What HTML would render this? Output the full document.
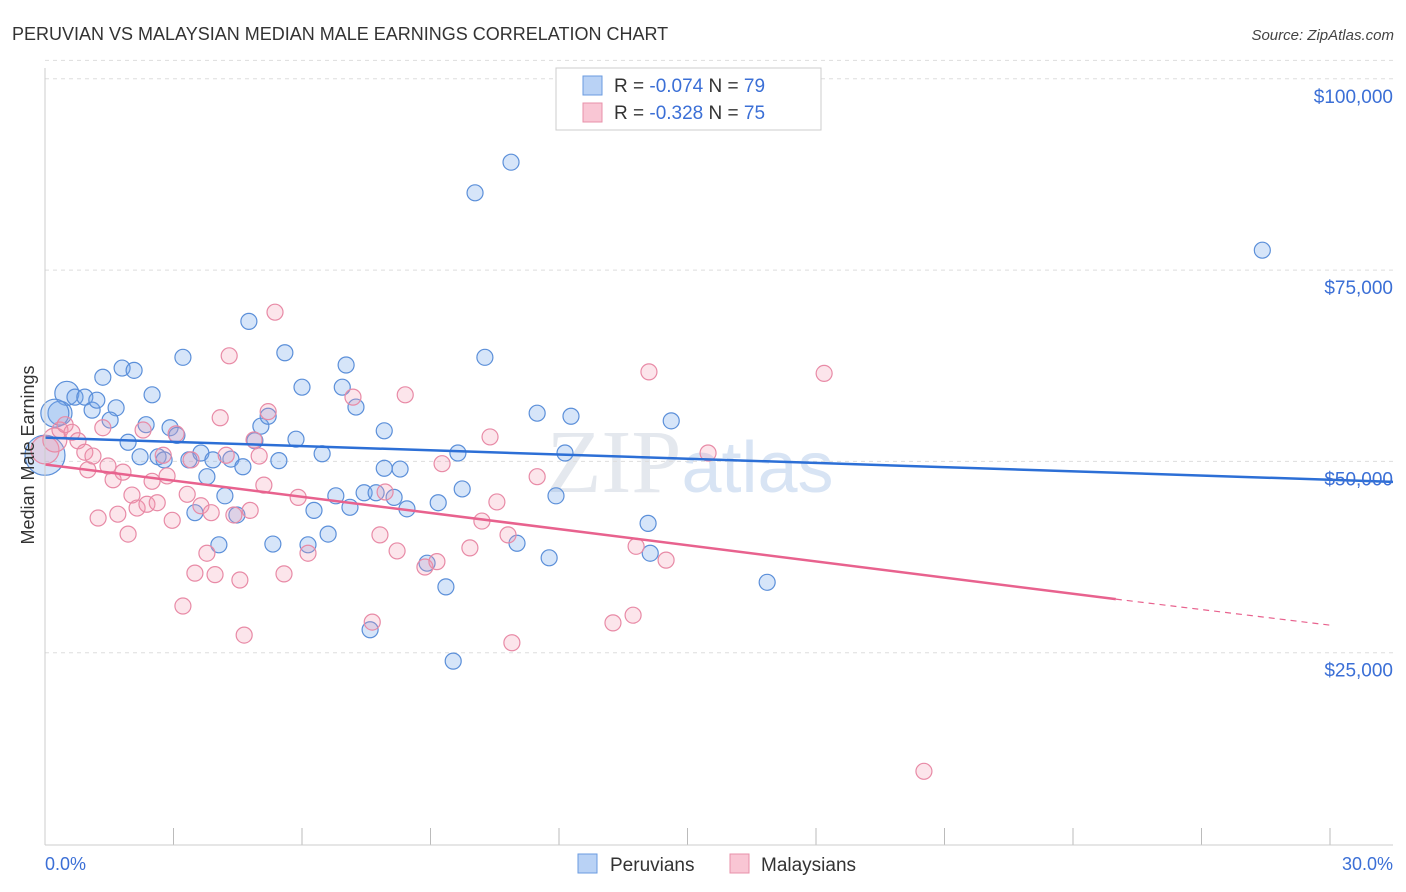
<!DOCTYPE html>
<html><head><meta charset="utf-8"><style>
body{margin:0;background:#fff;font-family:"Liberation Sans",sans-serif;}
svg{display:block}
</style></head><body>
<svg id="chart" width="1406" height="892" viewBox="0 0 1406 892">
<text x="12" y="40" font-size="18" fill="#333">PERUVIAN VS MALAYSIAN MEDIAN MALE EARNINGS CORRELATION CHART</text>
<text x="1394" y="40" font-size="15" fill="#444" text-anchor="end" font-style="italic">Source: ZipAtlas.com</text>
<text x="690" y="492" font-size="90" fill="#e4e8ee" text-anchor="middle" font-family="Liberation Serif">ZIP<tspan fill="#d8e4f4" font-family="Liberation Sans" font-size="72">atlas</tspan></text>
<g id="grid"></g><g id="marks"></g>
<line x1="45" y1="845" x2="1393" y2="845" stroke="#ccc"/>
<line x1="45" y1="68" x2="45" y2="845" stroke="#ccc"/>
<text transform="translate(34,455) rotate(-90)" font-size="18" fill="#333" text-anchor="middle">Median Male Earnings</text>
<text x="45" y="870" font-size="18" fill="#3b6fd6">0.0%</text>
<text x="1393" y="870" font-size="18" fill="#3b6fd6" text-anchor="end">30.0%</text>
<g>
<rect x="556" y="68" width="265" height="62" fill="#fff" stroke="#ccc"/>
<rect x="583" y="76" width="19" height="19" fill="#b9d2f5" stroke="#6a9be0"/>
<text x="614" y="92" font-size="19" fill="#333">R = <tspan fill="#3b6fd6">-0.074</tspan>   N = <tspan fill="#3b6fd6">79</tspan></text>
<rect x="583" y="103" width="19" height="19" fill="#f9c6d4" stroke="#e890aa"/>
<text x="614" y="119" font-size="19" fill="#333">R = <tspan fill="#3b6fd6">-0.328</tspan>   N = <tspan fill="#3b6fd6">75</tspan></text>
</g>
<g>
<rect x="578" y="854" width="19" height="19" fill="#b9d2f5" stroke="#6a9be0"/>
<text x="610" y="871" font-size="19" fill="#333">Peruvians</text>
<rect x="730" y="854" width="19" height="19" fill="#f9c6d4" stroke="#e890aa"/>
<text x="761" y="871" font-size="19" fill="#333">Malaysians</text>
</g>
</svg>
<script>
const yTicks=[25000,50000,75000,100000];
const yTickLabels=["$25,000","$50,000","$75,000","$100,000"];
const xTicks=[0,3,6,9,12,15,18,21,24,27,30];
const peruX=[0,0.51,0.35,0.23,0.70,0.93,1.10,1.21,1.35,1.66,1.52,1.80,2.08,1.94,2.22,2.36,2.50,2.64,2.78,2.92,3.08,3.22,3.36,3.50,3.64,3.78,3.92,4.06,4.20,4.34,4.48,4.62,4.76,4.90,5.04,5.21,5.32,5.46,5.60,5.86,6.00,6.14,6.28,6.47,6.61,6.79,6.94,7.03,7.12,7.26,7.45,7.59,7.73,7.92,7.92,8.15,8.29,8.45,8.92,9.18,9.36,9.53,9.64,9.74,10.04,10.27,10.88,11.02,11.49,11.77,11.93,12.14,12.28,14.08,14.13,14.62,16.86,28.42];
const peruY=[50.8,58.9,56.3,56.3,58.4,58.4,56.7,58.0,61.0,57.0,55.4,62.2,61.9,52.5,50.6,54.8,58.7,50.6,50.2,54.4,53.4,63.6,50.2,43.3,51.1,48.0,50.2,39.1,45.5,50.3,43.0,49.3,68.3,52.7,54.6,55.9,39.2,50.1,64.2,52.9,59.7,39.1,43.6,51.0,40.5,45.5,59.7,62.6,44.0,57.1,45.9,28.0,45.9,54.0,49.1,45.3,49.0,43.8,36.7,44.6,33.6,23.9,51.1,46.4,85.1,63.6,89.1,39.3,56.3,37.4,45.5,51.1,55.9,41.9,38.0,55.3,34.2,77.6];
const peruR=[20,12,12,14];
const malX=[0,0.23,0.35,0.47,0.63,0.77,0.93,1.00,1.12,1.24,1.35,1.47,1.59,1.70,1.82,1.94,2.03,2.15,2.29,2.38,2.50,2.62,2.76,2.85,2.97,3.06,3.22,3.32,3.41,3.50,3.64,3.78,3.88,3.97,4.09,4.23,4.30,4.41,4.55,4.65,4.79,4.88,5.00,5.11,5.21,5.37,5.58,5.91,6.14,7.19,7.64,7.82,7.94,8.22,8.41,8.87,9.15,9.27,9.92,10.20,10.39,10.55,10.81,10.90,11.49,13.26,13.73,13.80,14.10,14.50,15.48,18.19,20.52];
const malY=[51.5,52.8,54.1,54.8,53.8,52.7,51.2,48.9,50.7,42.6,54.4,49.4,47.6,43.1,48.6,40.5,45.6,43.9,54.1,44.4,47.4,44.6,50.8,48.1,42.3,53.6,31.1,45.7,50.2,35.4,44.2,38.0,43.3,35.2,55.7,50.8,63.8,43.0,34.5,27.3,43.6,52.8,50.7,46.9,56.5,69.5,35.3,45.3,38.0,58.4,29.0,40.4,46.0,38.3,58.7,36.2,36.9,49.7,38.7,42.2,53.2,44.7,40.4,26.3,48.0,28.9,29.9,38.9,61.7,37.1,51.1,61.5,9.5];
const malR=[14,12];
const peruTrend=[53.1,47.6]; // y at x=0 and x=30
const malTrend=[49.6,32.0,28.6]; // y at x=0, x=25, x=30
const NS="http://www.w3.org/2000/svg";
const X=v=>45+v/30*1285, Y=v=>844-v/25*191.3;
function mk(tag,attrs,parent){const e=document.createElementNS(NS,tag);for(const k in attrs)e.setAttribute(k,attrs[k]);parent.appendChild(e);return e;}
const grid=document.getElementById('grid'), marks=document.getElementById('marks'), svg=document.getElementById('chart');
yTicks.forEach((t,i)=>{const y=Y(t/1000);
 const l=mk('line',{x1:45,x2:1393,y1:y,y2:y,stroke:'#ddd','stroke-dasharray':'4,4'},grid);
 
 
 const tx=mk('text',{x:1393,y:y+24,'font-size':19,fill:'#3b6fd6','text-anchor':'end'},svg);
 tx.textContent=yTickLabels[i];
 
 });
{const y=Y(100.0);const l=mk('line',{x1:45,x2:1393,y1:Y(102.4),y2:Y(102.4),stroke:'#ddd','stroke-dasharray':'4,4'},grid);
 
 }
xTicks.forEach(t=>{const x=X(t);const l=mk('line',{x1:x,x2:x,y1:828,y2:845,stroke:'#bbb'},grid);
 
 });
peruX.forEach((v,i)=>{const c=mk('circle',{cx:X(v),cy:Y(peruY[i]),r:peruR[i]||8,fill:'rgba(120,170,235,0.3)',stroke:'#5b8fd9','stroke-width':1.2},marks);
 
 });
malX.forEach((v,i)=>{const c=mk('circle',{cx:X(v),cy:Y(malY[i]),r:malR[i]||8,fill:'rgba(245,150,175,0.25)',stroke:'#e88aa6','stroke-width':1.2},marks);
 
 });
let l1=mk('line',{x1:X(0),y1:Y(peruTrend[0]),x2:1393,y2:Y(peruTrend[0]+(peruTrend[1]-peruTrend[0])*(1348/1285)),stroke:'#2c6fd6','stroke-width':2.5},marks);


let l2=mk('line',{x1:X(0),y1:Y(malTrend[0]),x2:X(25),y2:Y(malTrend[1]),stroke:'#e8628e','stroke-width':2.5},marks);


let l3=mk('line',{x1:X(25),y1:Y(malTrend[1]),x2:X(30),y2:Y(malTrend[2]),stroke:'#e8628e','stroke-width':1.2,'stroke-dasharray':'6,5'},marks);


</script>
</body></html>
